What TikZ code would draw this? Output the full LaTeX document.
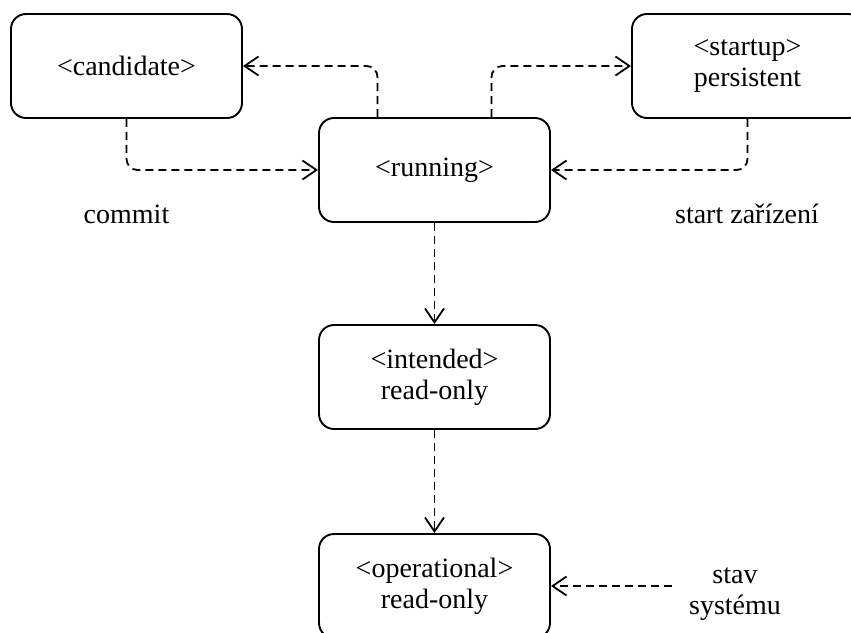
\documentclass[tikz,border=0pt]{standalone}
\usepackage{fontspec}
\setmainfont{Liberation Serif}
\usetikzlibrary{arrows.meta}
\begin{document}
\begin{tikzpicture}[x=1pt,y=-1pt,
  txt/.style={font=\fontsize{28}{31}\selectfont, align=center},
  state/.style={txt, draw, line width=1.9pt, rounded corners=15pt,
    minimum width=231pt, minimum height=104pt, inner sep=0pt},
  flow/.style={line width=1.8pt, dash pattern=on 8pt off 5pt, rounded corners=11pt,
    -{Straight Barb[length=14pt,width=19pt,line width=1.8pt]}}]
\useasboundingbox (0,0) rectangle (851,632);

% datastores
\node[state] (cand) at (126.5,66) {<candidate>};
\node[state] (start) at (747.5,66) {<startup>\\persistent};
\node[state] (run) at (434.5,170) {<running>};
\node[state] (int) at (434.5,377) {<intended>\\read-only};
\node[state] (oper) at (434.5,586) {<operational>\\read-only};

% labels
\node[txt] (commit) at (126.5,214) {commit};
\node[txt] (boot) at (747,214) {start zařízení};
\node[txt] (sys) at (735,594) {stav\\systému};
\coordinate (sysend) at (672,586);

% flows
\draw[flow] ([xshift=-57pt]run.north) |- (cand.east);
\draw[flow] ([xshift=57pt]run.north) |- (start.west);
\draw[flow] (cand.south) |- (run.west);
\draw[flow] (start.south) |- (run.east);
\draw[flow] (run.south) -- (int.north);
\draw[flow] (int.south) -- (oper.north);
\draw[flow] (sysend) -- (oper.east);
\end{tikzpicture}
\end{document}
